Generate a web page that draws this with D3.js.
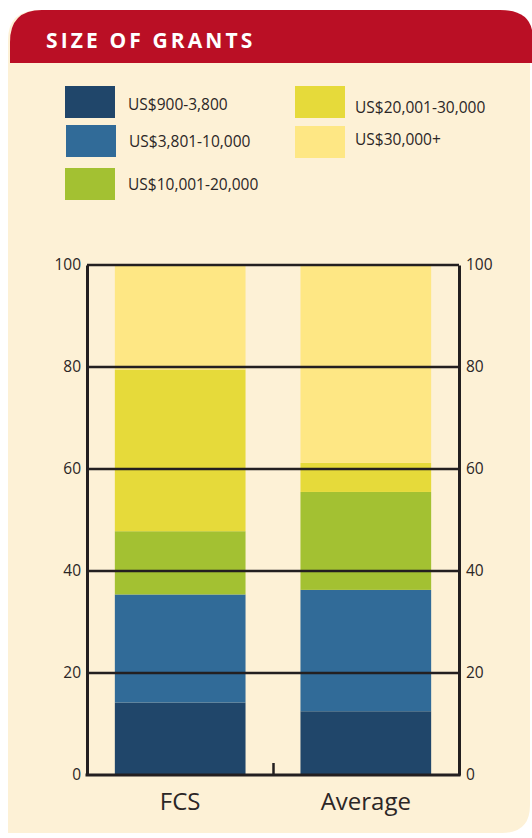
<!DOCTYPE html>
<html>
<head>
<meta charset="utf-8">
<script src="https://cdn.jsdelivr.net/npm/d3@7"></script>
<style>
  html, body { margin: 0; padding: 0; background: #fff; }
  svg { display: block; }
  text { font-family: "Open Sans", "DejaVu Sans", sans-serif; }
</style>
</head>
<body>
<svg id="chart" width="532" height="838"></svg>
<script>
// Data
const categories = ['FCS', 'Average'];
const bands = ['US$900-3,800', 'US$3,801-10,000', 'US$10,001-20,000', 'US$20,001-30,000', 'US$30,000+'];
const fcsValues = [14.2, 21.2, 12.4, 31.7, 20.5];
const averageValues = [12.5, 23.8, 19.2, 5.7, 38.8];
const yTicks = [0, 20, 40, 60, 80, 100];
const colors = ['#20466a', '#316b98', '#a3c132', '#e6da3a', '#fee784'];

const svg = d3.select('#chart');

// Panel background
const panel = svg.append('g');
panel.append('path')
  .attr('d', 'M8,40 Q8,10 40,10 L500,10 Q530,10 530,40 L530,805 Q530,833 502,833 L8,833 Z')
  .attr('fill', '#fdf1d6');
panel.append('path')
  .attr('d', 'M10,63 L10,42 Q10,10 42,10 L500,10 Q528,10 532,30 L532,63 Z')
  .attr('fill', '#ba0f25');
panel.append('text')
  .attr('x', 46)
  .attr('y', 48)
  .attr('fill', '#fff')
  .attr('font-size', 21)
  .attr('font-weight', 'bold')
  .attr('letter-spacing', 3.1)
  .text('SIZE OF GRANTS');

// Legend
const legendPos = [
  { x: 65, y: 86 }, { x: 66, y: 125 }, { x: 65, y: 168 },
  { x: 295, y: 86 }, { x: 295, y: 126 }
];
const legendTextDy = [24, 22, 22, 27, 19];
const legend = svg.append('g');
bands.forEach((b, i) => {
  const p = legendPos[i];
  legend.append('rect')
    .attr('x', p.x).attr('y', p.y)
    .attr('width', 50).attr('height', 32)
    .attr('fill', colors[i]);
  legend.append('text')
    .attr('x', p.x + (i < 3 ? 63 : 60))
    .attr('y', p.y + legendTextDy[i])
    .attr('font-size', 15.5)
    .attr('fill', '#2b2626')
    .text(b);
});

// Chart
const plotLeft = 87, plotRight = 459, plotTop = 265, plotBottom = 775;
const y = d3.scaleLinear().domain([0, 100]).range([plotBottom, plotTop]);
const x = d3.scaleBand().domain(categories).range([plotLeft, plotRight]).paddingInner(0.296).paddingOuter(0.15);

const seriesByCat = { 'FCS': fcsValues, 'Average': averageValues };
const stackData = categories.map(c => {
  const row = { cat: c };
  bands.forEach((b, i) => { row[b] = seriesByCat[c][i]; });
  return row;
});
const stack = d3.stack().keys(bands)(stackData);

const g = svg.append('g');
g.selectAll('g.layer')
  .data(stack)
  .enter().append('g')
  .attr('class', 'layer')
  .attr('fill', (d, i) => colors[i])
  .selectAll('rect')
  .data(d => d)
  .enter().append('rect')
  .attr('x', d => x(d.data.cat))
  .attr('width', x.bandwidth())
  .attr('y', d => y(d[1]))
  .attr('height', d => y(d[0]) - y(d[1]));

// Gridlines over bars
g.selectAll('line.grid')
  .data(yTicks.filter(t => t > 0))
  .enter().append('line')
  .attr('x1', plotLeft).attr('x2', plotRight)
  .attr('y1', d => y(d)).attr('y2', d => y(d))
  .attr('stroke', '#231f20')
  .attr('stroke-width', 2.5);

// Axes
const axisLeft = d3.axisLeft(y).tickValues(yTicks).tickSize(0).tickPadding(6);
const axisRight = d3.axisRight(y).tickValues(yTicks).tickSize(0).tickPadding(7);
[[axisLeft, plotLeft], [axisRight, plotRight]].forEach(([ax, pos]) => {
  const a = g.append('g').attr('transform', `translate(${pos},0)`).call(ax);
  a.select('.domain').attr('stroke', '#231f20').attr('stroke-width', 3);
  a.selectAll('text').attr('font-size', 15.5).attr('fill', '#2b2626')
    .attr('font-family', '"Open Sans", sans-serif');
});

// Baseline and centre tick
g.append('line')
  .attr('x1', plotLeft - 1.5).attr('x2', plotRight + 1.5)
  .attr('y1', plotBottom).attr('y2', plotBottom)
  .attr('stroke', '#231f20').attr('stroke-width', 3);
g.append('line')
  .attr('x1', (plotLeft + plotRight) / 2 + 0.5).attr('x2', (plotLeft + plotRight) / 2 + 0.5)
  .attr('y1', plotBottom - 12).attr('y2', plotBottom)
  .attr('stroke', '#231f20').attr('stroke-width', 2.5);

// Category labels
g.selectAll('text.cat')
  .data(categories)
  .enter().append('text')
  .attr('class', 'cat')
  .attr('x', d => x(d) + x.bandwidth() / 2)
  .attr('y', 810)
  .attr('text-anchor', 'middle')
  .attr('font-size', 24)
  .attr('fill', '#2b2626')
  .text(d => d);
</script>
</body>
</html>
